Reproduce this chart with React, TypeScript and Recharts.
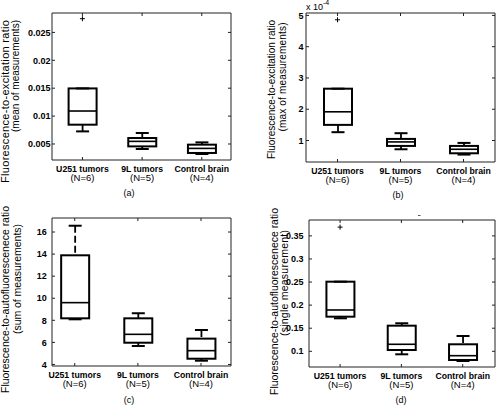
import { Bar, ComposedChart, Scatter, XAxis, YAxis } from "recharts";

// Group names along the x axis and their sample sizes.
const CATEGORIES = ["U251 tumors", "9L tumors", "Control brain"];
const GROUP_N = [6, 5, 4];
const GROUP_TICKS = [1, 2, 3];

// Five-number summaries per group:
// [lower whisker, Q1, median, Q3, upper whisker]
const MEAN_STATS = [
  [0.00726, 0.00846, 0.01091, 0.01496, 0.01496],
  [0.0041, 0.00457, 0.00547, 0.00607, 0.00697],
  [0.00321, 0.00339, 0.00421, 0.00488, 0.00529],
];
const MEAN_OUTLIERS = [[0, 0.02746]]; // [group index, value]
const MEAN_TICKS = [0.005, 0.01, 0.015, 0.02, 0.025];

// panel (b) is in units of 1e-4
const MAX_STATS = [
  [1.266, 1.5, 1.918, 2.657, 2.657],
  [0.72, 0.827, 0.955, 1.051, 1.234],
  [0.55, 0.592, 0.72, 0.827, 0.923],
];
const MAX_OUTLIERS = [[0, 4.86]];
const MAX_TICKS = [1, 2, 3, 4, 5];

const SUM_STATS = [
  [8.09, 8.18, 9.6, 13.89, 16.57],
  [5.67, 5.97, 6.73, 8.18, 8.64],
  [4.34, 4.52, 5.25, 6.34, 7.12],
];
const SUM_OUTLIERS: number[][] = [];
const SUM_TICKS = [4, 6, 8, 10, 12, 14, 16];

const SINGLE_STATS = [
  [0.1715, 0.175, 0.1895, 0.2508, 0.2508],
  [0.0935, 0.1028, 0.1152, 0.1555, 0.1607],
  [0.079, 0.0812, 0.0905, 0.1152, 0.1331],
];
const SINGLE_OUTLIERS = [[0, 0.369]];
const SINGLE_TICKS = [0.1, 0.15, 0.2, 0.25, 0.3, 0.35];

const FONT = '"Liberation Sans", Arial, Helvetica, sans-serif';
const INK = "#000";
const AXIS = "#222";
const BOX_W = 28;
const CAP_W = 13;

type Label = { text: string; cx: number; cy: number; len: number; size: number };

type Panel = {
  stats: number[][];
  outliers: number[][];
  yTicks: number[];
  yDomain: [number, number];
  xDomain: [number, number];
  left: number;
  top: number;
  width: number;
  height: number;
  margin: { top: number; right: number; bottom: number; left: number };
  yAxisWidth: number;
  xAxisHeight: number;
  yTickMargin: number;
  labels: Label[];
  caption: { text: string; x: number; y: number };
};

// top/right margins leave 1px for the frame axes drawn there
const PANELS: Panel[] = [
  {
    stats: MEAN_STATS,
    outliers: MEAN_OUTLIERS,
    yTicks: MEAN_TICKS,
    yDomain: [0.00213, 0.02848],
    xDomain: [0.49, 3.49],
    left: 0,
    top: 0,
    width: 248,
    height: 203,
    margin: { top: 12, right: 16, bottom: 0, left: 0 },
    yAxisWidth: 52,
    xAxisHeight: 43,
    yTickMargin: 4.5,
    labels: [
      { text: "Fluorescence-to-excitation  ratio", cx: 4.5, cy: 101.5, len: 163, size: 11 },
      { text: "(mean of measurements)", cx: 15.5, cy: 76, len: 112, size: 10 },
    ],
    caption: { text: "(a)", x: 129, y: 196 },
  },
  {
    stats: MAX_STATS,
    outliers: MAX_OUTLIERS,
    yTicks: MAX_TICKS,
    yDomain: [0.313, 5.077],
    xDomain: [0.5, 3.5],
    left: 248,
    top: 0,
    width: 248,
    height: 203,
    margin: { top: 12, right: 0, bottom: 0, left: 0 },
    yAxisWidth: 58,
    xAxisHeight: 41,
    yTickMargin: 5.5,
    labels: [
      { text: "Fluorescence-to-excitation  ratio", cx: 271.7, cy: 89.5, len: 139, size: 10 },
      { text: "(max of measurements)", cx: 282.3, cy: 77, len: 109, size: 10 },
    ],
    caption: { text: "(b)", x: 398, y: 198 },
  },
  {
    stats: SUM_STATS,
    outliers: SUM_OUTLIERS,
    yTicks: SUM_TICKS,
    yDomain: [3.86, 17.27],
    xDomain: [0.64, 3.475],
    left: 0,
    top: 203,
    width: 248,
    height: 203,
    margin: { top: 14, right: 16, bottom: 0, left: 0 },
    yAxisWidth: 52,
    xAxisHeight: 40,
    yTickMargin: 8.3,
    labels: [
      { text: "Fluorescence-to-autofluorescenece ratio", cx: 5, cy: 299.5, len: 187, size: 10.5 },
      { text: "(sum of measurements)", cx: 16.5, cy: 279, len: 110, size: 10.5 },
    ],
    caption: { text: "(c)", x: 129, y: 403 },
  },
  {
    stats: SINGLE_STATS,
    outliers: SINGLE_OUTLIERS,
    yTicks: SINGLE_TICKS,
    yDomain: [0.066, 0.3844],
    xDomain: [0.493, 3.527],
    left: 248,
    top: 203,
    width: 248,
    height: 203,
    margin: { top: 16, right: 0, bottom: 0, left: 0 },
    yAxisWidth: 61,
    xAxisHeight: 39,
    yTickMargin: 8.5,
    labels: [
      { text: "Fluorescence-to-autofluorescenece ratio", cx: 273.5, cy: 301.5, len: 187, size: 10.5 },
      { text: "(single measurement)", cx: 283.5, cy: 283, len: 106, size: 10.5 },
    ],
    caption: { text: "(d)", x: 401, y: 403 },
  },
];

// Box + whiskers drawn inside the range bar [lower whisker, upper whisker].
// Pixel positions of the quartiles are interpolated from the bar's own ends,
// which come from the y scale.
function BoxShape(props: any) {
  const { x, y, width, height, payload } = props;
  const stats = payload?.stats as number[] | undefined;
  if (!stats || !Number.isFinite(y) || !Number.isFinite(height)) return null;
  const [lo, q1, med, q3, hi] = stats;
  const py = (v: number) => y + (height * (hi - v)) / (hi - lo);
  const cx = x + width / 2;
  const hw = BOX_W / 2;
  const cw = CAP_W / 2;
  return (
    <g stroke={INK} fill="none">
      {hi > q3 && (
        <line x1={cx} x2={cx} y1={py(hi)} y2={py(q3)} strokeWidth={1.8} strokeDasharray="7 3" />
      )}
      {lo < q1 && (
        <line x1={cx} x2={cx} y1={py(q1)} y2={py(lo)} strokeWidth={1.8} strokeDasharray="7 3" />
      )}
      <line x1={cx - cw} x2={cx + cw} y1={py(hi)} y2={py(hi)} strokeWidth={2} />
      <line x1={cx - cw} x2={cx + cw} y1={py(lo)} y2={py(lo)} strokeWidth={2} />
      <rect x={cx - hw} y={py(q3)} width={BOX_W} height={py(q1) - py(q3)} strokeWidth={2} />
      <line x1={cx - hw} x2={cx + hw} y1={py(med)} y2={py(med)} strokeWidth={1.6} />
    </g>
  );
}

function PlusShape(props: any) {
  const { cx, cy } = props;
  if (!Number.isFinite(cx) || !Number.isFinite(cy)) return null;
  return (
    <g stroke={INK} strokeWidth={1}>
      <line x1={cx - 2.5} x2={cx + 2.5} y1={cy} y2={cy} />
      <line x1={cx} x2={cx} y1={cy - 2.5} y2={cy + 2.5} />
    </g>
  );
}

function CategoryTick(props: any) {
  const { x, y, payload } = props;
  const i = Math.round(payload?.value ?? 0) - 1;
  if (i < 0 || i >= CATEGORIES.length) return null;
  return (
    <g fill={INK} fontFamily={FONT}>
      <text x={x} y={y + 11.5} textAnchor="middle" fontSize={8.7} fontWeight="bold">
        {CATEGORIES[i]}
      </text>
      <text x={x} y={y + 21} textAnchor="middle" fontSize={9.5}>
        (N={GROUP_N[i]})
      </text>
    </g>
  );
}

// frame axes carry tick marks only
const NoLabel = () => <g />;

function BoxPanel({ p }: { p: Panel }) {
  const rows = CATEGORIES.map((name, i) => ({
    pos: i + 1,
    name,
    stats: p.stats[i],
    range: [p.stats[i][0], p.stats[i][4]],
  }));
  const outliers = p.outliers.map(([g, v]) => ({ pos: g + 1, v }));
  return (
    <div style={{ position: "absolute", left: p.left, top: p.top }}>
      <ComposedChart width={p.width} height={p.height} data={rows} margin={p.margin}>
        <XAxis
          dataKey="pos"
          type="number"
          domain={p.xDomain}
          ticks={GROUP_TICKS}
          interval={0}
          allowDataOverflow
          height={p.xAxisHeight}
          tickSize={-3}
          tickMargin={3}
          tick={<CategoryTick />}
          axisLine={{ stroke: AXIS }}
          tickLine={{ stroke: AXIS }}
        />
        <XAxis
          xAxisId="top"
          orientation="top"
          dataKey="pos"
          type="number"
          domain={p.xDomain}
          ticks={GROUP_TICKS}
          interval={0}
          allowDataOverflow
          height={1}
          tickSize={-3}
          tick={<NoLabel />}
          axisLine={{ stroke: AXIS }}
          tickLine={{ stroke: AXIS }}
        />
        <YAxis
          type="number"
          domain={p.yDomain}
          ticks={p.yTicks}
          interval={0}
          allowDataOverflow
          width={p.yAxisWidth}
          tickSize={-3}
          tickMargin={p.yTickMargin}
          tick={{ fontSize: 9, fill: INK, fontFamily: FONT, fontWeight: "bold" }}
          tickFormatter={(v: number) => String(v)}
          axisLine={{ stroke: AXIS }}
          tickLine={{ stroke: AXIS }}
        />
        <YAxis
          yAxisId="right"
          orientation="right"
          type="number"
          domain={p.yDomain}
          ticks={p.yTicks}
          interval={0}
          allowDataOverflow
          width={1}
          tickSize={-3}
          tick={<NoLabel />}
          axisLine={{ stroke: AXIS }}
          tickLine={{ stroke: AXIS }}
        />
        <Bar dataKey="range" barSize={BOX_W} shape={<BoxShape />} isAnimationActive={false} />
        <Scatter
          data={outliers}
          dataKey="v"
          xAxisId="top"
          yAxisId="right"
          shape={<PlusShape />}
          isAnimationActive={false}
        />
      </ComposedChart>
    </div>
  );
}

export default function App() {
  return (
    <div
      style={{
        position: "absolute",
        left: 0,
        top: 0,
        width: 496,
        height: 406,
        background: "#fff",
        overflow: "hidden",
        fontFamily: FONT,
      }}
    >
      {PANELS.map((p, i) => (
        <BoxPanel key={i} p={p} />
      ))}
      <svg
        width={496}
        height={406}
        style={{ position: "absolute", left: 0, top: 0, pointerEvents: "none" }}
        fontFamily={FONT}
      >
        {PANELS.map((p, i) => (
          <g key={i} fill={INK}>
            {p.labels.map((l) => (
              <text
                key={l.text}
                x={l.cx}
                y={l.cy}
                fontSize={l.size}
                textAnchor="middle"
                dominantBaseline="central"
                textLength={l.len}
                lengthAdjust="spacing"
                transform={`rotate(-90 ${l.cx} ${l.cy})`}
              >
                {l.text}
              </text>
            ))}
            <text x={p.caption.x} y={p.caption.y} fontSize={9} textAnchor="middle">
              {p.caption.text}
            </text>
          </g>
        ))}
        {/* exponent of panel (b) */}
        <text x={306} y={10} fontSize={9} fill={INK}>
          x 10
          <tspan dy={-5} fontSize={7}>
            -4
          </tspan>
        </text>
        {/* stray mark above panel (d) */}
        <line x1={418} x2={420.5} y1={215.5} y2={215.5} stroke="#555" strokeWidth={1} />
      </svg>
    </div>
  );
}
